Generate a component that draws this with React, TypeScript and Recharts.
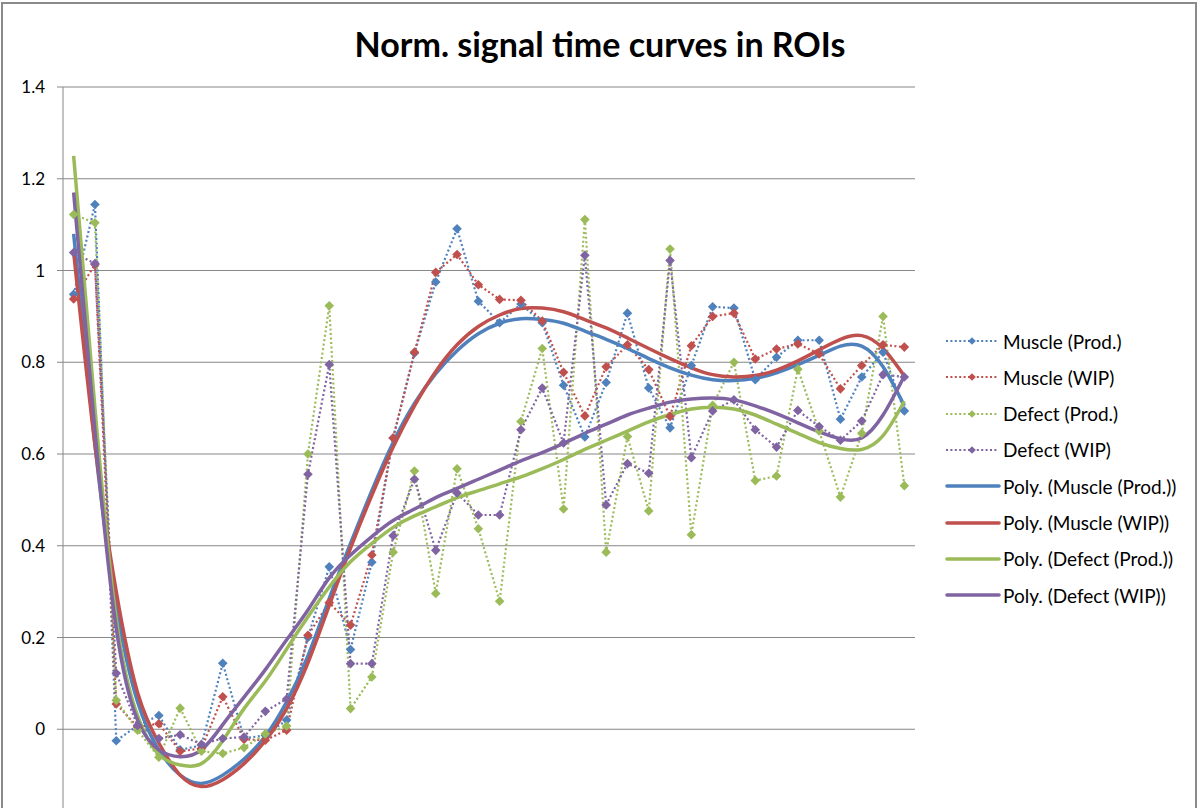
import React from 'react';
import { LineChart, Line, XAxis, YAxis, CartesianGrid } from 'recharts';

const timePoints = [1, 2, 3, 4, 5, 6, 7, 8, 9, 10, 11, 12, 13, 14, 15, 16, 17, 18, 19, 20, 21, 22, 23, 24, 25, 26, 27, 28, 29, 30, 31, 32, 33, 34, 35, 36, 37, 38, 39, 40];

const muscleProd = [0.948, 1.144, -0.025, 0.008, 0.03, -0.045, -0.035, 0.144, -0.02, -0.013, 0.02, 0.2, 0.354, 0.174, 0.364, 0.635, 0.82, 0.975, 1.091, 0.933, 0.886, 0.927, 0.886, 0.75, 0.637, 0.756, 0.907, 0.744, 0.657, 0.793, 0.921, 0.918, 0.762, 0.811, 0.848, 0.848, 0.676, 0.768, 0.822, 0.694];
const muscleWip = [0.938, 1.013, 0.055, 0.005, 0.012, -0.048, -0.042, 0.071, -0.022, -0.024, -0.002, 0.205, 0.276, 0.227, 0.38, 0.635, 0.822, 0.996, 1.035, 0.969, 0.937, 0.935, 0.89, 0.778, 0.683, 0.79, 0.838, 0.784, 0.682, 0.836, 0.9, 0.907, 0.807, 0.829, 0.84, 0.818, 0.742, 0.793, 0.838, 0.833];
const defectProd = [1.122, 1.104, 0.063, -0.002, -0.061, 0.046, -0.048, -0.053, -0.04, -0.01, 0.007, 0.6, 0.923, 0.045, 0.114, 0.386, 0.563, 0.296, 0.568, 0.437, 0.279, 0.671, 0.83, 0.48, 1.111, 0.386, 0.638, 0.476, 1.047, 0.424, 0.706, 0.8, 0.542, 0.552, 0.785, 0.65, 0.506, 0.645, 0.9, 0.531];
const defectWip = [1.039, 1.015, 0.122, 0.008, -0.02, -0.012, -0.033, -0.02, -0.017, 0.039, 0.066, 0.556, 0.795, 0.143, 0.143, 0.422, 0.545, 0.39, 0.515, 0.467, 0.467, 0.653, 0.744, 0.624, 1.033, 0.489, 0.579, 0.558, 1.022, 0.592, 0.694, 0.718, 0.653, 0.615, 0.695, 0.66, 0.63, 0.672, 0.773, 0.768];

const polyMuscleProd = [1.08, 0.62, 0.27, 0.06, -0.045, -0.1, -0.118, -0.1, -0.065, -0.015, 0.06, 0.16, 0.285, 0.405, 0.52, 0.625, 0.71, 0.775, 0.825, 0.862, 0.885, 0.895, 0.893, 0.885, 0.868, 0.85, 0.83, 0.808, 0.788, 0.772, 0.762, 0.76, 0.765, 0.777, 0.795, 0.815, 0.835, 0.835, 0.79, 0.705];
const polyMuscleWip = [1.04, 0.62, 0.3, 0.08, -0.03, -0.1, -0.125, -0.11, -0.075, -0.025, 0.045, 0.145, 0.27, 0.395, 0.51, 0.615, 0.705, 0.78, 0.838, 0.878, 0.903, 0.917, 0.918, 0.91, 0.893, 0.875, 0.853, 0.83, 0.808, 0.788, 0.773, 0.768, 0.771, 0.783, 0.803, 0.827, 0.85, 0.858, 0.83, 0.77];
const polyDefectProd = [1.25, 0.7, 0.24, 0.03, -0.055, -0.078, -0.075, -0.025, 0.045, 0.105, 0.175, 0.245, 0.31, 0.365, 0.405, 0.44, 0.465, 0.485, 0.505, 0.52, 0.535, 0.55, 0.568, 0.588, 0.61, 0.63, 0.65, 0.67, 0.686, 0.698, 0.702, 0.698, 0.685, 0.665, 0.645, 0.625, 0.612, 0.61, 0.64, 0.715];
const polyDefectWip = [1.17, 0.65, 0.22, 0.02, -0.045, -0.06, -0.045, 0.01, 0.07, 0.13, 0.195, 0.26, 0.33, 0.38, 0.42, 0.455, 0.48, 0.505, 0.525, 0.545, 0.565, 0.585, 0.603, 0.623, 0.645, 0.665, 0.685, 0.7, 0.713, 0.72, 0.722, 0.718, 0.705, 0.688, 0.668, 0.648, 0.633, 0.635, 0.685, 0.77];

const yTicks = [0, 0.2, 0.4, 0.6, 0.8, 1, 1.2, 1.4];
const yTickLabels = ['0', '0.2', '0.4', '0.6', '0.8', '1', '1.2', '1.4'];

const TITLE = 'Norm. signal time curves in ROIs';

const series = [
  { key: 'muscleProd', name: 'Muscle (Prod.)', color: '#4F81BD' },
  { key: 'muscleWip', name: 'Muscle (WIP)', color: '#C0504D' },
  { key: 'defectProd', name: 'Defect (Prod.)', color: '#9BBB59' },
  { key: 'defectWip', name: 'Defect (WIP)', color: '#8064A2' },
];
const trends = [
  { key: 'polyMuscleProd', name: 'Poly. (Muscle (Prod.))', color: '#4F81BD' },
  { key: 'polyMuscleWip', name: 'Poly. (Muscle (WIP))', color: '#C0504D' },
  { key: 'polyDefectProd', name: 'Poly. (Defect (Prod.))', color: '#9BBB59' },
  { key: 'polyDefectWip', name: 'Poly. (Defect (WIP))', color: '#8064A2' },
];

const rows = timePoints.map((t, i) => ({
  t,
  muscleProd: muscleProd[i],
  muscleWip: muscleWip[i],
  defectProd: defectProd[i],
  defectWip: defectWip[i],
  polyMuscleProd: polyMuscleProd[i],
  polyMuscleWip: polyMuscleWip[i],
  polyDefectProd: polyDefectProd[i],
  polyDefectWip: polyDefectWip[i],
}));

const FONT = 'Lato, "Open Sans", sans-serif';
const GRID = '#878787';

const makeDiamond = (color: string) => (props: any) => {
  const { cx, cy, index } = props;
  if (cx == null || cy == null) return <g key={`e-${index}`} />;
  const r = 4.8;
  return (
    <path
      key={`d-${index}`}
      d={`M${cx},${cy - r}L${cx + r},${cy}L${cx},${cy + r}L${cx - r},${cy}Z`}
      fill={color}
      stroke="none"
    />
  );
};

const LegendBlock = () => {
  const rowsL = [...series.map((s) => ({ ...s, dotted: true })), ...trends.map((s) => ({ ...s, dotted: false }))];
  return (
    <div style={{ position: 'absolute', left: 944, top: 323, fontFamily: FONT, fontSize: 19, color: '#000' }}>
      {rowsL.map((r, i) => (
        <div key={r.key} style={{ position: 'absolute', left: 0, top: i * 36.3, height: 36, width: 252, display: 'flex', alignItems: 'center', whiteSpace: 'nowrap' }}>
          <svg width={58} height={14} style={{ flex: 'none' }}>
            {r.dotted ? (
              <>
                <line x1={2} y1={7} x2={54} y2={7} stroke={r.color} strokeWidth={2} strokeDasharray="2 2.4" />
                <path d="M28,3.2L31.8,7L28,10.8L24.2,7Z" fill={r.color} />
              </>
            ) : (
              <line x1={3} y1={7} x2={55} y2={7} stroke={r.color} strokeWidth={3.6} strokeLinecap="round" />
            )}
          </svg>
          <span style={{ marginLeft: 1 }}>{r.name}</span>
        </div>
      ))}
    </div>
  );
};

export default function App() {
  return (
    <div style={{ position: 'absolute', left: 0, top: 0, width: 1200, height: 808, overflow: 'hidden', background: '#fff' }}>
      <div style={{ position: 'absolute', left: 1, top: 2, width: 1196, height: 900, border: '2px solid #8a8a8a', boxSizing: 'border-box' }} />
      <div style={{ position: 'absolute', left: 0, top: 23, width: 1200, textAlign: 'center', fontFamily: FONT, fontWeight: 700, fontSize: 34, lineHeight: '42px', color: '#000' }}>
        {TITLE}
      </div>
      <div style={{ position: 'absolute', left: 0, top: 0 }}>
        <LineChart width={1200} height={830} data={rows} margin={{ top: 87, right: 285, bottom: 9, left: 0 }}>
          <CartesianGrid horizontal={true} vertical={false} stroke={GRID} strokeWidth={1} />
          <XAxis dataKey="t" type="number" domain={[0.5, 40.5]} hide />
          <YAxis
            type="number"
            domain={[-0.2, 1.4]}
            ticks={yTicks}
            width={63}
            interval={0}
            tickSize={6}
            tickMargin={12}
            axisLine={{ stroke: GRID, strokeWidth: 1 }}
            tickLine={{ stroke: GRID, strokeWidth: 1 }}
            tick={{ fill: '#000', fontSize: 17, fontFamily: FONT }}
            tickFormatter={(v: number) => yTickLabels[yTicks.indexOf(v)] ?? String(v)}
          />
          {series.map((s) => (
            <Line
              key={s.key}
              dataKey={s.key}
              name={s.name}
              type="linear"
              stroke={s.color}
              strokeWidth={2.2}
              strokeDasharray="2 2.5"
              dot={makeDiamond(s.color)}
              activeDot={false}
              isAnimationActive={false}
            />
          ))}
          {trends.map((s) => (
            <Line
              key={s.key}
              dataKey={s.key}
              name={s.name}
              type="natural"
              stroke={s.color}
              strokeWidth={3.5}
              dot={false}
              activeDot={false}
              isAnimationActive={false}
            />
          ))}
        </LineChart>
      </div>
      <LegendBlock />
    </div>
  );
}
